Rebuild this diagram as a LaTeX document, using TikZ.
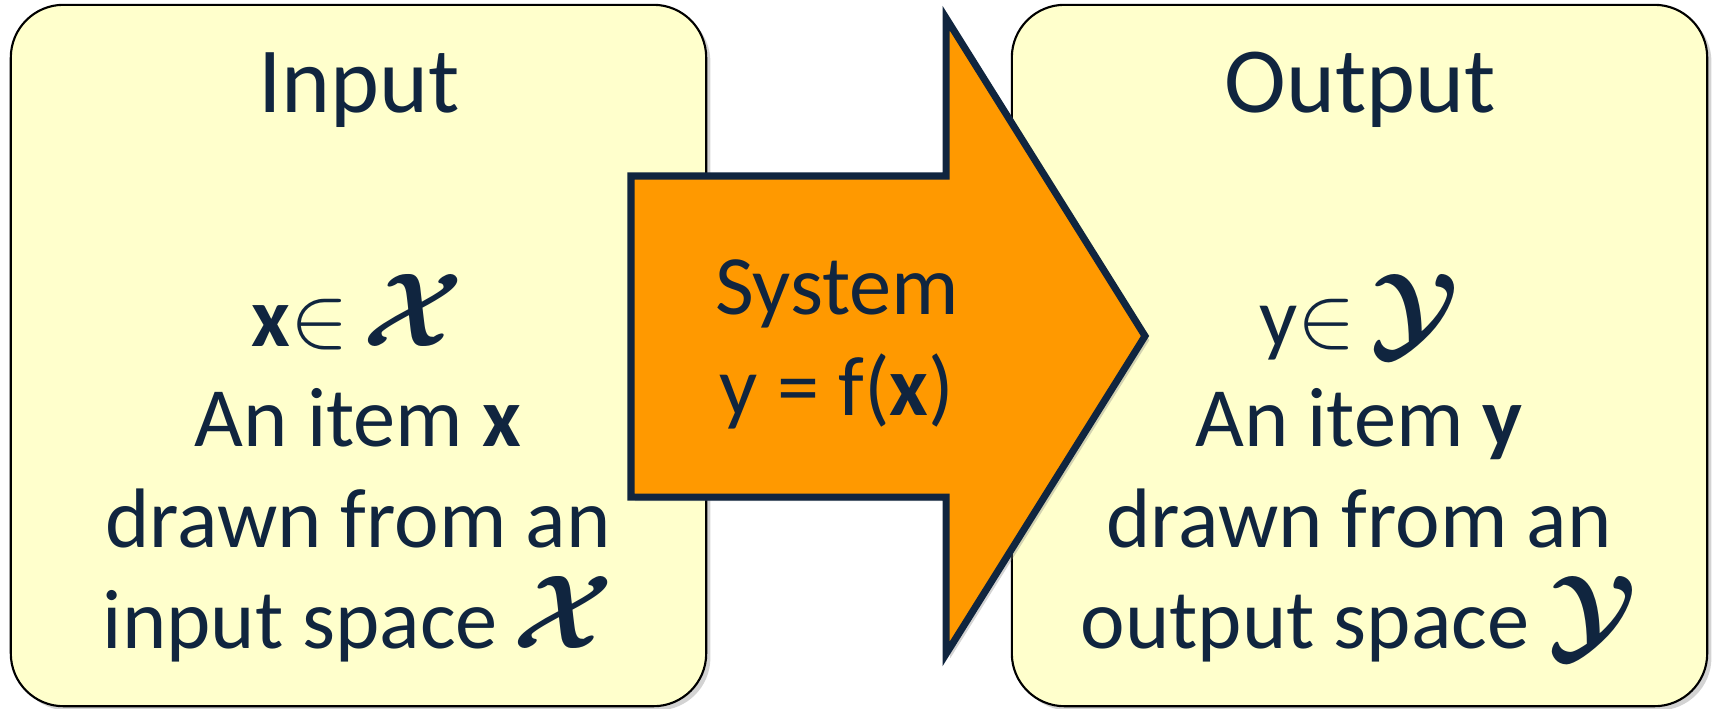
\documentclass[tikz,border=0pt]{standalone}
\usepackage{amsmath}
\usepackage{bm}
\usepackage{graphicx}
\usepackage{fontspec}
\setmainfont{Carlito}
\usetikzlibrary{shadows}
\definecolor{boxfill}{HTML}{FFFFCC}
\definecolor{navy}{HTML}{10253F}
\definecolor{sysorange}{HTML}{FF9900}
\newcommand{\bigset}[1]{\scalebox{1.2}{$\bm{\mathcal{#1}}$}}

\begin{document}
\begin{tikzpicture}[x=0.01cm,y=-0.01cm,line join=miter,
  panel/.style={draw=black,line width=0.6pt,fill=boxfill,rounded corners=15pt,
    minimum width=6.95cm,minimum height=7.01cm,inner sep=0pt,
    drop shadow={shadow xshift=1.2pt,shadow yshift=-1.2pt,opacity=0.35}},
  headtext/.style={text=navy,font=\fontsize{26.5}{32}\selectfont,anchor=base,inner sep=0pt},
  body/.style={text=navy,font=\fontsize{24}{28.6}\selectfont,align=center,anchor=base,inner sep=0pt}]
\useasboundingbox (0,0) rectangle (1716,708);
% 输入框
\node[panel] (inbox) at (358.5,355.5) {};
% 输出框
\node[panel] (outbox) at (1359.5,355.5) {};
% 系统箭头
\draw[line width=2pt,draw=navy,fill=sysorange,
  drop shadow={shadow xshift=1.2pt,shadow yshift=-1.2pt,opacity=0.35}]
  (631,176) -- (946,176) -- (946,18) -- (1145,336) -- (946,654)
  -- (946,497) -- (631,497) -- cycle;
% 箭头文字（base 为末行基线）
\node[body] (sys) at (837,415) {System\\y = f(\textbf{x})};
% 输入文字
\node[headtext] (intitle) at (359,112) {Input};
\node[body] (intext) at (358,648)
  {\textbf{x}$\in$\,\bigset{X}\\An item \textbf{x}\\drawn from an\\input space\,\bigset{X}};
% 输出文字
\node[headtext] (outtitle) at (1360,112) {Output};
\node[body] (outtext) at (1359,648)
  {y$\in$\,\bigset{Y}\\An item \textbf{y}\\drawn from an\\output space \bigset{Y}};
\end{tikzpicture}
\end{document}
